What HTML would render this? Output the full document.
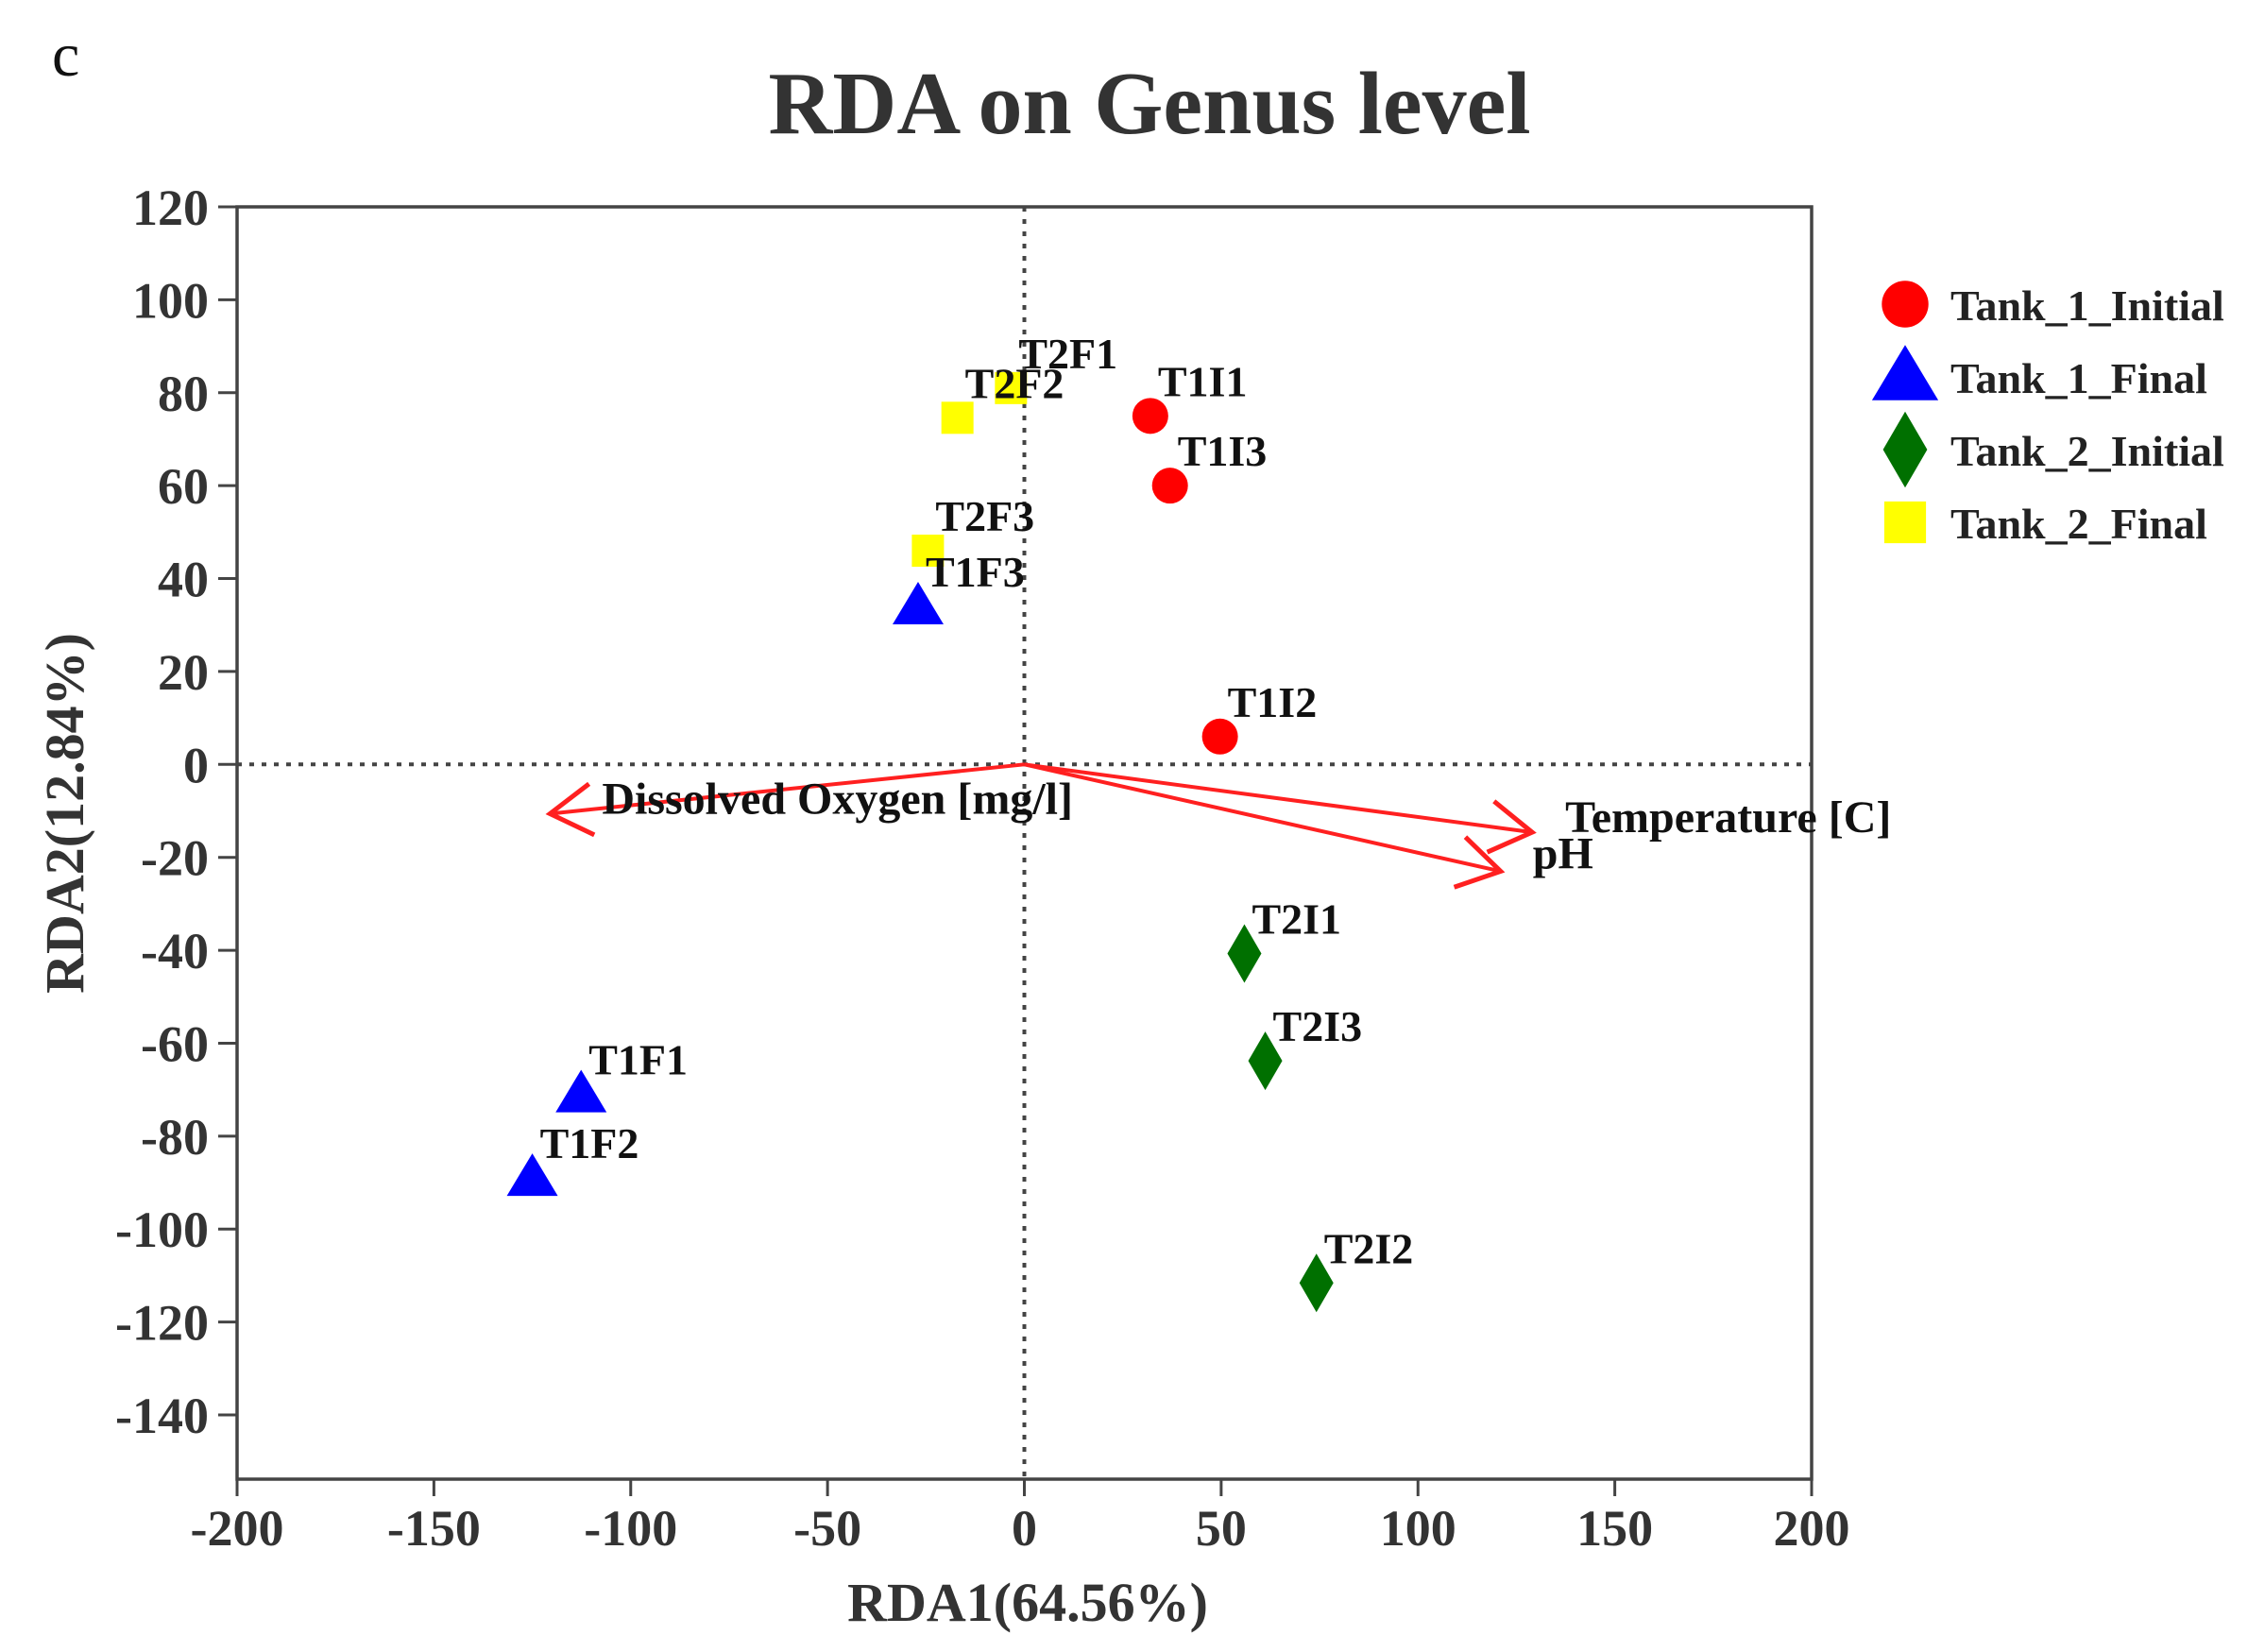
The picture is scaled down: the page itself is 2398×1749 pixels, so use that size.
<!DOCTYPE html>
<html><head><meta charset="utf-8"><style>
html,body{margin:0;padding:0;background:#fff;}
svg{display:block;font-family:"Liberation Serif",serif;font-weight:bold;}
</style></head><body>
<svg id="chart" width="2398" height="1749" viewBox="0 0 2398 1749" xmlns="http://www.w3.org/2000/svg">
<text x="55" y="80" font-size="66" fill="#111" font-weight="normal">c</text>
<text x="1217" y="141" font-size="94" fill="#333" text-anchor="middle">RDA on Genus level</text>
<g id="axes"></g>
<g id="arrows"></g>
<g id="points"></g>
<text x="1088" y="1716" font-size="58" fill="#333" text-anchor="middle">RDA1(64.56%)</text>
<text transform="translate(88,861) rotate(-90)" font-size="58" fill="#333" text-anchor="middle">RDA2(12.84%)</text>
<g id="legend"></g>
</svg>
<script>
const xTicks = [-200,-150,-100,-50,0,50,100,150,200];
const yTicks = [120,100,80,60,40,20,0,-20,-40,-60,-80,-100,-120,-140];
const sampleNames = ["T1I1","T1I3","T1I2","T1F1","T1F2","T1F3","T2I1","T2I3","T2I2","T2F1","T2F2","T2F3"];
const sampleGroups = [0,0,0,1,1,1,2,2,2,3,3,3];
const sampleX = [32,37,49.7,-112.6,-125,-27,55.9,61.2,74.2,-3.4,-17,-24.5];
const sampleY = [75,60,6,-71,-89,34,-40.7,-63.8,-111.6,81,74.6,46];
const groupNames = ["Tank_1_Initial","Tank_1_Final","Tank_2_Initial","Tank_2_Final"];
const groupColors = ["#ff0000","#0000ff","#007000","#ffff00"];
const envNames = ["Dissolved Oxygen [mg/l]","Temperature [C]","pH"];
const envX = [-120.5,129,121];
const envY = [-10.6,-14.6,-23];

const NS="http://www.w3.org/2000/svg";
const L=251,R=1918,T=219,B=1566;
const sx=v=>L+(v+200)*(R-L)/400;
const sy=v=>T+(120-v)*(1498-219)/260;
function el(tag,attrs,parent){const e=document.createElementNS(NS,tag);for(const k in attrs)e.setAttribute(k,attrs[k]);parent.appendChild(e);return e;}
const axes=document.getElementById('axes');
let zl=el('line',{x1:sx(0),y1:T,x2:sx(0),y2:B,stroke:'#444','stroke-width':4,'stroke-dasharray':'5 8'},axes);


let zh=el('line',{x1:L,y1:sy(0),x2:R,y2:sy(0),stroke:'#444','stroke-width':4,'stroke-dasharray':'5 8'},axes);


let frame=el('rect',{x:L,y:T,width:R-L,height:B-T,fill:'none',stroke:'#444','stroke-width':3.5},axes);


xTicks.forEach(v=>{
  const x=sx(v);
  const t=el('line',{x1:x,y1:B,x2:x,y2:B+18,stroke:'#444','stroke-width':3},axes);
  
  
  const tx=el('text',{x:x,y:B+70,'font-size':54,fill:'#333','text-anchor':'middle'},axes);
  tx.textContent=v;
  
  
});
yTicks.forEach(v=>{
  const y=sy(v);
  const t=el('line',{x1:L-20,y1:y,x2:L,y2:y,stroke:'#444','stroke-width':3},axes);
  
  
  const tx=el('text',{x:L-30,y:y+19,'font-size':54,fill:'#333','text-anchor':'end'},axes);
  tx.textContent=v;
  
  
});
const arrows=document.getElementById('arrows');
const labelOff=[[55,0],[35,0],[34,-3]];
envNames.forEach((n,i)=>{
  const x0=sx(0),y0=sy(0),x1=sx(envX[i]),y1=sy(envY[i]);
  const a=Math.atan2(y1-y0,x1-x0),h=52,s=0.55;
  const g=el('g',{},arrows);
  
  
  el('line',{x1:x0,y1:y0,x2:x1,y2:y1,stroke:'#ff2020','stroke-width':4},g);
  el('polyline',{points:`${x1-h*Math.cos(a-s)},${y1-h*Math.sin(a-s)} ${x1},${y1} ${x1-h*Math.cos(a+s)},${y1-h*Math.sin(a+s)}`,fill:'none',stroke:'#ff2020','stroke-width':5},g);
  const t=el('text',{x:x1+labelOff[i][0],y:y1+labelOff[i][1],'font-size':48,fill:'#111'},arrows);
  t.textContent=n;
  
  
});
function marker(grp,cx,cy,parent,k){
  let m;
  if(grp===0)m=el('circle',{cx:cx,cy:cy,r:19*k,fill:groupColors[0]},parent);
  else if(grp===1)m=el('polygon',{points:`${cx},${cy-26*k} ${cx+27*k},${cy+19*k} ${cx-27*k},${cy+19*k}`,fill:groupColors[1]},parent);
  else if(grp===2)m=el('polygon',{points:`${cx},${cy-31*k} ${cx+18*k},${cy} ${cx},${cy+31*k} ${cx-18*k},${cy}`,fill:groupColors[2]},parent);
  else m=el('rect',{x:cx-17*k,y:cy-17*k,width:34*k,height:34*k,fill:groupColors[3]},parent);
  return m;
}
const pts=document.getElementById('points');
sampleNames.forEach((n,i)=>{
  const cx=sx(sampleX[i]),cy=sy(sampleY[i]);
  const m=marker(sampleGroups[i],cx,cy,pts,1);
  
  
});
sampleNames.forEach((n,i)=>{
  const cx=sx(sampleX[i]),cy=sy(sampleY[i]);
  const t=el('text',{x:cx+8,y:cy-21,'font-size':46,fill:'#111'},pts);
  t.textContent=n;
  
  
});
const leg=document.getElementById('legend');
groupNames.forEach((n,i)=>{
  const cy=322+i*77;
  const g=el('g',{},leg);
  
  
  marker(i,2017,cy,g,1.3);
  const t=el('text',{x:2065,y:cy+17,'font-size':46,fill:'#222'},g);
  t.textContent=n;
});
</script>
</body></html>
